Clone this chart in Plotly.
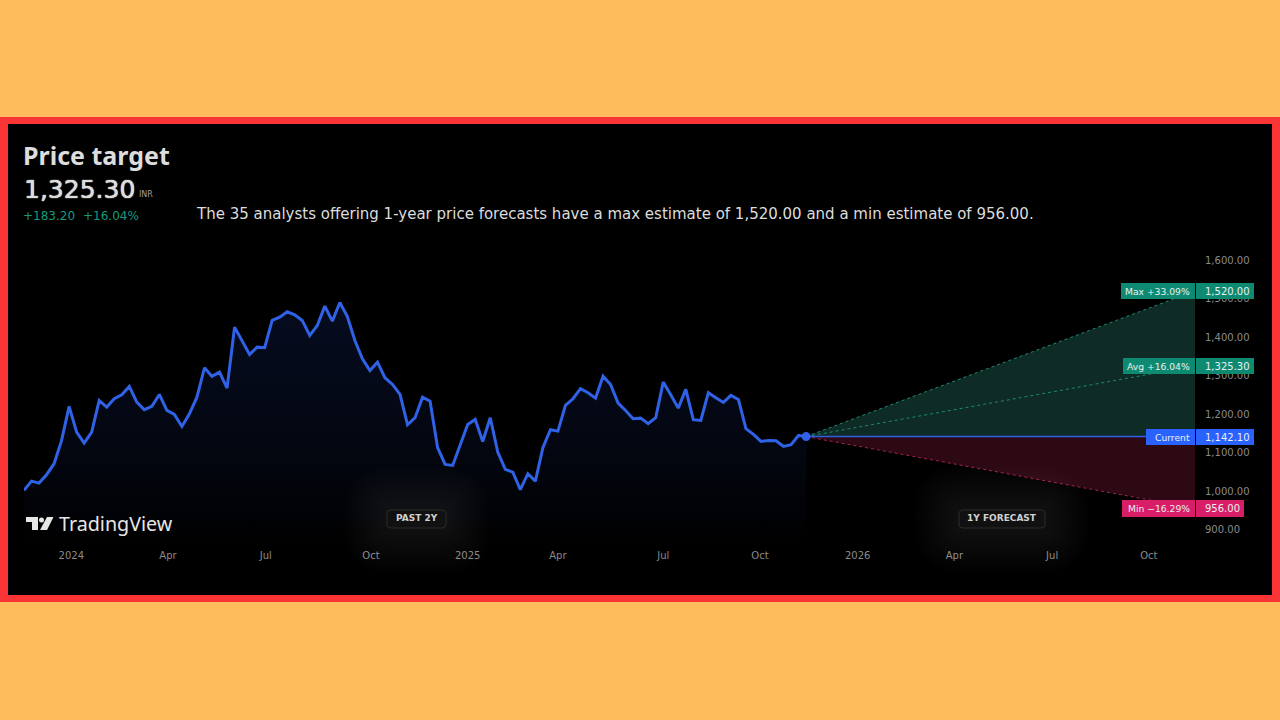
import pandas as pd
import plotly.graph_objects as go

# weekly close
prices = [
    1002.6, 1026.7, 1021.5, 1043.3, 1071.8, 1132.2, 1220.4, 1153.7, 1125.2, 1153.7,
    1235.9, 1218.6, 1240.3, 1250.7, 1272.2, 1231.5, 1211.8, 1220.4, 1251.5, 1210.0,
    1199.6, 1168.5, 1201.5, 1244.5, 1320.7, 1298.2, 1309.3, 1267.8, 1426.0, 1391.5,
    1355.2, 1374.1, 1372.6, 1443.4, 1451.9, 1465.9, 1458.1, 1443.4, 1404.5, 1430.4,
    1480.4, 1441.5, 1490.0, 1453.7, 1391.5, 1344.0, 1313.7, 1335.2, 1294.8, 1277.4,
    1251.5, 1172.9, 1191.1, 1244.5, 1234.1, 1113.3, 1070.0, 1067.4, 1121.1, 1173.7,
    1186.7, 1129.6, 1191.1, 1101.9, 1057.0, 1050.0, 1004.4, 1045.9, 1026.7, 1113.3,
    1160.0, 1156.3, 1223.0, 1240.3, 1266.3, 1255.9, 1241.9, 1298.9, 1277.4, 1229.0,
    1210.0, 1188.5, 1190.0, 1175.5, 1191.1, 1283.4, 1250.7, 1216.0, 1264.5, 1185.9,
    1184.1, 1255.9, 1242.9, 1230.8, 1248.9, 1238.5, 1162.6, 1147.8, 1129.6, 1132.2,
    1131.5, 1116.7, 1121.1, 1145.2, 1142.1,
]
dates = pd.date_range("2023-11-19", periods=len(prices), freq="7D")
forecast_end = pd.Timestamp("2026-11-13")

current = 1142.10
target_max = 1520.00
target_avg = 1325.30
target_min = 956.00

# TradingView snaps its labels to bars, hence the odd days
tick_dates = ["2024-01-02", "2024-04-01", "2024-07-01", "2024-10-07", "2025-01-05", "2025-03-30",
              "2025-07-06", "2025-10-04", "2026-01-03", "2026-04-03", "2026-07-03", "2026-10-01"]
tick_labels = ["2024", "Apr", "Jul", "Oct", "2025", "Apr", "Jul", "Oct", "2026", "Apr", "Jul", "Oct"]
y_ticks = [900, 1000, 1100, 1200, 1300, 1400, 1500, 1600]

FONT = "DejaVu Sans"
W, H = 1280, 720
L, R, T, B = 24, 1195, 240, 545


# paper coordinates run over the plot area, not the page
def px(x):
    return (x - L) / (R - L)


def py(y):
    return (B - y) / (B - T)


def rect(x0, y0, x1, y1, fill, line=None, radius=0, opacity=1):
    # pixel box on the page
    if radius:
        x0p, x1p, y0p, y1p = px(x0), px(x1), py(y0), py(y1)
        rx, ry = radius / (R - L), radius / (B - T)
        path = (f"M {x0p+rx} {y0p} L {x1p-rx} {y0p} Q {x1p} {y0p} {x1p} {y0p-ry} "
                f"L {x1p} {y1p+ry} Q {x1p} {y1p} {x1p-rx} {y1p} L {x0p+rx} {y1p} "
                f"Q {x0p} {y1p} {x0p} {y1p+ry} L {x0p} {y0p-ry} Q {x0p} {y0p} {x0p+rx} {y0p} Z")
        return dict(type="path", path=path, xref="paper", yref="paper", fillcolor=fill,
                    line=dict(color=line or fill, width=1 if line else 0), opacity=opacity, layer="above")
    return dict(type="rect", x0=px(x0), x1=px(x1), y0=py(y0), y1=py(y1), xref="paper", yref="paper",
                fillcolor=fill, line=dict(width=0), opacity=opacity, layer="above")


def text(x, y, s, size, color, anchor="left", weight=None, family=FONT, heavy=False):
    label = f"<b>{s}</b>" if weight else s
    font = dict(family=family, size=size, color=color)
    if heavy:
        # thickens regular glyphs a little, the reference is a soft screenshot
        font["shadow"] = f"0 0 1px {color}, 0 0 1px {color}"
    return dict(x=px(x), y=py(y), xref="paper", yref="paper", text=label, showarrow=False,
                xanchor=anchor, yanchor="middle", borderpad=0, borderwidth=0, font=font)


fig = go.Figure()

# forecast fans
fig.add_trace(go.Scatter(x=[dates[-1], forecast_end, forecast_end], y=[current, target_max, current],
                         fill="toself", fillcolor="#0f2b26", mode="none"))
fig.add_trace(go.Scatter(x=[dates[-1], forecast_end, forecast_end], y=[current, target_min, current],
                         fill="toself", fillcolor="#2c0913", mode="none"))
for target, color in [(target_max, "#1c8a70"), (target_avg, "#1c8a70"), (target_min, "#a8214f")]:
    fig.add_trace(go.Scatter(x=[dates[-1], forecast_end], y=[current, target], mode="lines",
                             line=dict(color=color, width=1, dash="dot")))
fig.add_trace(go.Scatter(x=[dates[-1], forecast_end], y=[current, current], mode="lines",
                         line=dict(color="#2f5fe0", width=1.5)))

# price history
fig.add_trace(go.Scatter(
    x=dates, y=prices, mode="lines", line=dict(color="#2f62e6", width=3),
    fill="tozeroy",
    fillgradient=dict(type="vertical", colorscale=[[0, "#000000"], [0.35, "#03060f"], [1, "#060c20"]],
                      start=861, stop=1490),
))
fig.add_trace(go.Scatter(x=[dates[-1]], y=[current], mode="markers",
                         marker=dict(color="#2f62e6", size=9)))

shapes = [
    dict(type="rect", x0=px(0), x1=px(W), y0=py(602), y1=py(117), xref="paper", yref="paper",
         fillcolor="#fb3535", line=dict(width=0), layer="below"),
    dict(type="rect", x0=px(8), x1=px(1272), y0=py(595), y1=py(124), xref="paper", yref="paper",
         fillcolor="#000000", line=dict(width=0), layer="below"),
]

# glow behind the two pills
for x0, x1 in [(387, 446), (959, 1045)]:
    for grow in range(44, 0, -3):
        shapes.append(rect(x0 - grow, 510 - grow, x1 + grow, 528 + grow, "#ffffff",
                           radius=grow + 4, opacity=0.006))
    shapes.append(rect(x0, 510, x1, 528, "#111111", line="#2a2a2a", radius=4))

# price tags on the right
tags = [
    (283, 299, 1121, 1254, "#0f8a72", "Max +33.09%", "1,520.00"),
    (358, 374, 1123, 1254, "#0f8a72", "Avg +16.04%", "1,325.30"),
    (429, 445, 1146, 1254, "#2962ff", "Current", "1,142.10"),
    (500, 517, 1122, 1244, "#d81e67", "Min −16.29%", "956.00"),
]
annotations = []
for y0, y1, x0, x1, color, name, val in tags:
    shapes.append(rect(x0, y0, 1195, y1, color))
    shapes.append(rect(1196, y0, x1, y1, color))
    annotations.append(text(1190, (y0 + y1) / 2, name, 9.2, "#e8f0ee", anchor="right"))
    annotations.append(text(1205, (y0 + y1) / 2, val, 10, "#e8f0ee"))

# TradingView logo
logo = (f"M {px(26)} {py(517)} L {px(38)} {py(517)} L {px(38)} {py(530)} L {px(32)} {py(530)} "
        f"L {px(32)} {py(522)} L {px(26)} {py(522)} Z "
        f"M {px(47)} {py(517)} L {px(53.5)} {py(517)} L {px(47)} {py(530)} L {px(40)} {py(530)} Z")
shapes.append(dict(type="path", path=logo, xref="paper", yref="paper", fillcolor="#e6e6e6",
                   line=dict(width=0), layer="above"))
shapes.append(dict(type="circle", xref="paper", yref="paper", x0=px(39), x1=px(44), y0=py(522.5), y1=py(517.5),
                   fillcolor="#e6e6e6", line=dict(width=0), layer="above"))

annotations += [
    text(23, 155, "Price target", 25, "#dddddd", weight=True, family="Noto Sans"),
    text(24, 189, "1,325.30", 25, "#dddddd", heavy=True),
    text(139, 194, "INR", 8, "#a0a0a0"),
    text(23, 216, "+183.20", 12, "#159b7c"),
    text(83, 216, "+16.04%", 12, "#159b7c"),
    text(195.5, 214.5, "The 35 analysts offering 1-year price forecasts have a max estimate of 1,520.00 and a min estimate of 956.00.",
         15, "#dcdcdc"),
    text(59, 523, "TradingView", 19.7, "#e6e6e6", family="Noto Sans"),
    text(416.5, 518, "PAST 2Y", 9, "#d0d0d0", anchor="center", weight=True),
    text(1002, 518, "1Y FORECAST", 9, "#d0d0d0", anchor="center", weight=True),
]

fig.update_layout(
    width=W, height=H,
    margin=dict(l=L, r=W - R, t=T, b=H - B, autoexpand=False),
    paper_bgcolor="#ffbc5c",
    plot_bgcolor="rgba(0,0,0,0)",
    showlegend=False,
    hovermode=False,
    shapes=shapes,
    annotations=annotations,
    font=dict(family=FONT, color="#8a8a8a", size=10),
    xaxis=dict(range=[dates[0], forecast_end], tickmode="array", tickvals=tick_dates, ticktext=tick_labels,
               showgrid=False, zeroline=False, showline=False, ticks="", ticklabelstandoff=3,
               tickfont=dict(family=FONT, size=10, color="#8a8a8a")),
    yaxis=dict(range=[861, 1652], side="right", tickmode="array", tickvals=y_ticks,
               ticktext=[f"{v:,.2f}" for v in y_ticks], showgrid=False, zeroline=False, showline=False,
               ticks="", ticklabelstandoff=9, tickfont=dict(family=FONT, size=10, color="#8a8a8a")),
)

# drop the browser's default body margin so page pixels line up
fig.write_html("out.html", config=dict(displayModeBar=False),
               post_script="document.body.style.margin='0';document.body.style.overflow='hidden';")
